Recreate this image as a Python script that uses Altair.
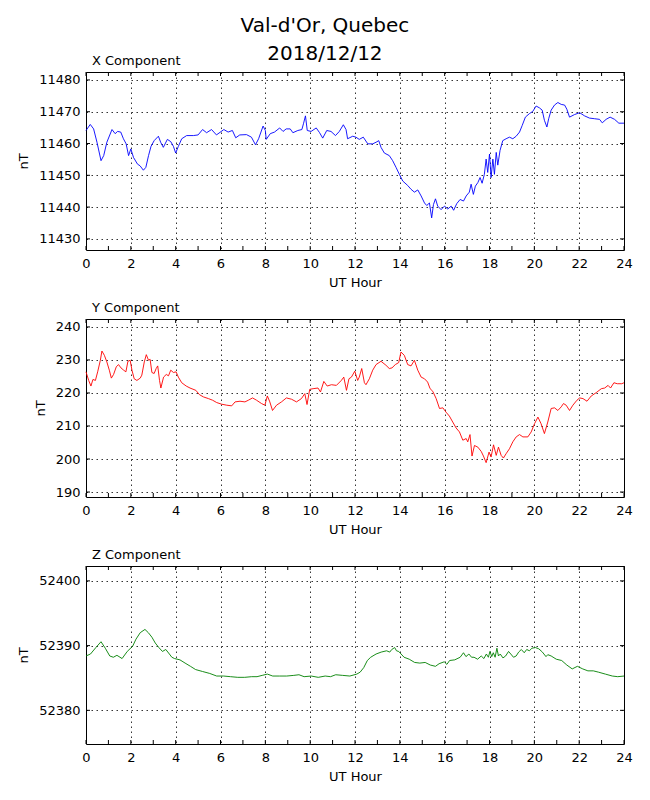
import altair as alt
import pandas as pd

# ---------------- data ----------------
X_T = [0, 0.19, 0.34, 0.49, 0.67, 0.79, 0.93, 1.16, 1.3, 1.41, 1.55, 1.67, 1.79, 1.9, 2.0, 2.12, 2.3, 2.41,
       2.56, 2.67, 2.79, 2.9, 3.04, 3.23, 3.33, 3.45, 3.63, 3.78, 3.9, 4.0, 4.12, 4.27, 4.49, 4.79, 5.0, 5.2,
       5.38, 5.6, 5.82, 6.15, 6.34, 6.53, 6.68, 6.86, 7.16, 7.38, 7.56, 7.7, 7.9, 8.0, 8.04, 8.22, 8.41, 8.64,
       8.79, 8.93, 9.11, 9.23, 9.45, 9.63, 9.7, 9.79, 9.87, 10.04, 10.27, 10.42, 10.56, 10.74, 10.93, 11.13,
       11.3, 11.48, 11.6, 11.67, 11.9, 12.04, 12.19, 12.37, 12.57, 12.79, 12.94, 13.06, 13.16, 13.31, 13.53,
       13.68, 13.83, 13.98, 14.13, 14.35, 14.5, 14.65, 14.8, 14.95, 15.1, 15.2, 15.32, 15.42, 15.5, 15.59,
       15.69, 15.84, 15.99, 16.14, 16.29, 16.4, 16.54, 16.69, 16.84, 16.96, 17.1, 17.18, 17.28, 17.37, 17.48,
       17.58, 17.67, 17.77, 17.85, 17.92, 18.0, 18.07, 18.15, 18.22, 18.3, 18.37, 18.47, 18.59, 18.74, 18.89,
       19.04, 19.19, 19.34, 19.46, 19.6, 19.78, 19.93, 20.08, 20.23, 20.35, 20.45, 20.56, 20.64, 20.75, 20.9,
       21.05, 21.2, 21.35, 21.45, 21.57, 21.79, 22.02, 22.24, 22.46, 22.69, 22.91, 23.03, 23.2, 23.38, 23.58,
       23.77, 24.0]
X_V = [11464.1, 11466.0, 11464.6, 11460.4, 11454.6, 11456.2, 11460.4, 11464.4, 11463.1, 11463.8, 11463.6,
       11461.5, 11459.9, 11456.2, 11458.3, 11455.6, 11453.5, 11453.0, 11451.6, 11452.5, 11456.2, 11459.1,
       11460.9, 11462.3, 11460.4, 11458.8, 11461.3, 11460.6, 11459.1, 11457.0, 11459.1, 11461.5, 11462.5,
       11462.5, 11462.7, 11464.4, 11463.4, 11464.4, 11462.7, 11464.4, 11463.6, 11464.1, 11461.8, 11462.7,
       11462.8, 11462.0, 11459.6, 11461.5, 11465.5, 11464.1, 11461.3, 11463.1, 11463.6, 11464.9, 11463.8,
       11464.6, 11464.6, 11463.4, 11464.1, 11464.4, 11466.2, 11468.7, 11464.1, 11463.8, 11464.9, 11463.4,
       11461.7, 11464.1, 11463.8, 11462.5, 11463.8, 11465.9, 11464.4, 11461.5, 11462.3, 11462.0, 11461.3,
       11462.0, 11459.9, 11459.9, 11460.4, 11460.9, 11458.8, 11457.0, 11456.2, 11454.6, 11452.5, 11450.3,
       11448.2, 11446.8, 11445.6, 11444.7, 11445.4, 11443.5, 11441.3, 11440.5, 11441.3, 11436.6, 11440.8,
       11442.6, 11440.3, 11439.2, 11440.3, 11439.4, 11440.3, 11439.0, 11441.1, 11442.4, 11441.9, 11443.5,
       11444.7, 11447.2, 11444.0, 11446.6, 11447.7, 11449.3, 11447.5, 11450.3, 11455.1, 11450.9, 11456.7,
       11449.3, 11455.1, 11450.3, 11457.2, 11453.2, 11457.8, 11460.9, 11461.5, 11462.0, 11461.5, 11462.3,
       11463.6, 11465.7, 11468.3, 11469.4, 11470.1, 11471.8, 11471.2, 11470.5, 11467.3, 11465.2, 11467.8,
       11470.5, 11472.1, 11472.9, 11472.3, 11472.1, 11470.8, 11468.3, 11469.1, 11469.7, 11468.7, 11468.0,
       11467.8, 11467.6, 11466.5, 11467.6, 11468.3, 11467.6, 11466.4, 11466.4]

Y_T = [0, 0.12, 0.22, 0.31, 0.42, 0.52, 0.64, 0.71, 0.82, 0.93, 1.04, 1.13, 1.23, 1.35, 1.45, 1.56, 1.68, 1.78,
       1.87, 1.97, 2.05, 2.15, 2.27, 2.42, 2.49, 2.6, 2.69, 2.79, 2.86, 2.94, 3.04, 3.13, 3.2, 3.28, 3.34, 3.46,
       3.58, 3.68, 3.78, 3.9, 4.02, 4.12, 4.27, 4.47, 4.64, 4.9, 5.06, 5.24, 5.46, 5.65, 5.83, 6.05, 6.28, 6.5,
       6.65, 6.87, 7.09, 7.24, 7.43, 7.61, 7.83, 7.98, 8.09, 8.2, 8.32, 8.5, 8.72, 8.94, 9.17, 9.39, 9.61, 9.76,
       9.86, 9.98, 10.13, 10.35, 10.46, 10.61, 10.76, 10.95, 11.17, 11.39, 11.5, 11.62, 11.73, 11.84, 11.99,
       12.12, 12.19, 12.3, 12.42, 12.49, 12.64, 12.79, 12.94, 13.16, 13.38, 13.53, 13.65, 13.8, 13.95, 14.05,
       14.2, 14.35, 14.5, 14.65, 14.8, 14.95, 15.1, 15.24, 15.35, 15.47, 15.62, 15.77, 15.92, 16.06, 16.21,
       16.36, 16.51, 16.66, 16.81, 16.96, 17.03, 17.13, 17.22, 17.33, 17.48, 17.63, 17.73, 17.85, 17.98, 18.07,
       18.18, 18.3, 18.4, 18.52, 18.62, 18.74, 18.89, 19.04, 19.19, 19.34, 19.49, 19.71, 19.86, 20.01, 20.16,
       20.3, 20.45, 20.6, 20.75, 20.9, 21.05, 21.2, 21.3, 21.42, 21.57, 21.72, 21.9, 22.02, 22.17, 22.35,
       22.54, 22.76, 22.99, 23.14, 23.29, 23.4, 23.55, 23.7, 23.9, 24.0]
Y_V = [226.4, 223.8, 222.1, 224.1, 223.8, 226.4, 229.9, 232.7, 231.4, 229.4, 226.9, 224.5, 225.6, 227.9, 228.6,
       227.6, 226.9, 226.4, 229.6, 229.9, 226.9, 224.3, 223.8, 224.5, 225.4, 229.4, 231.6, 229.9, 230.2, 226.2,
       225.9, 227.4, 228.2, 223.8, 221.5, 224.8, 225.6, 225.2, 226.9, 226.2, 226.4, 224.8, 223.1, 222.1, 221.5,
       220.8, 219.5, 218.8, 218.3, 217.8, 217.1, 216.6, 216.3, 216.1, 217.3, 217.5, 217.3, 217.8, 218.5, 217.8,
       216.8, 216.3, 219.1, 217.3, 214.7, 216.3, 217.3, 218.5, 218.1, 217.3, 218.3, 219.8, 216.5, 221.1, 221.3,
       221.5, 220.3, 223.5, 222.1, 222.5, 222.3, 223.8, 224.8, 220.8, 224.3, 224.8, 226.6, 223.8, 224.8, 227.4,
       223.1, 222.5, 224.3, 226.9, 228.6, 229.6, 228.4, 227.4, 227.6, 228.6, 229.2, 232.4, 231.4, 228.6, 228.2,
       229.9, 226.9, 224.8, 224.3, 223.3, 221.3, 220.5, 218.3, 215.3, 215.5, 214.2, 213.0, 211.2, 209.4, 208.2,
       205.7, 206.2, 205.2, 207.4, 200.9, 204.1, 203.6, 202.3, 200.9, 198.9, 202.1, 200.6, 204.3, 201.1, 203.6,
       201.1, 200.3, 201.6, 203.1, 205.2, 206.7, 207.4, 206.7, 206.7, 208.2, 210.7, 212.7, 210.7, 207.7, 211.2,
       215.3, 215.5, 214.7, 215.8, 216.8, 216.3, 214.7, 216.3, 217.8, 218.5, 218.3, 217.5, 219.1, 220.1, 221.3,
       221.5, 222.3, 221.5, 223.1, 222.8, 222.8, 223.1]

Z_T = [0, 0.2, 0.44, 0.67, 0.86, 1.06, 1.22, 1.38, 1.61, 1.84, 2.08, 2.23, 2.42, 2.63, 2.78, 2.94, 3.09, 3.25,
       3.41, 3.56, 3.72, 3.83, 3.95, 4.19, 4.42, 4.66, 4.89, 5.2, 5.52, 5.83, 6.14, 6.45, 6.77, 7.08, 7.39,
       7.63, 7.86, 8.09, 8.33, 8.64, 8.95, 9.27, 9.5, 9.73, 10.05, 10.36, 10.67, 10.91, 11.14, 11.45, 11.77,
       12.08, 12.23, 12.39, 12.55, 12.7, 12.94, 13.17, 13.41, 13.55, 13.64, 13.77, 13.85, 13.95, 14.19, 14.42,
       14.66, 14.89, 15.13, 15.36, 15.59, 15.75, 15.98, 16.1, 16.22, 16.45, 16.69, 16.84, 16.95, 17.08, 17.2,
       17.31, 17.47, 17.63, 17.75, 17.86, 17.95, 18.02, 18.1, 18.17, 18.25, 18.33, 18.4, 18.48, 18.6, 18.72,
       18.85, 18.95, 19.07, 19.19, 19.3, 19.42, 19.55, 19.66, 19.78, 19.89, 20.05, 20.2, 20.36, 20.52, 20.6,
       20.75, 20.98, 21.22, 21.45, 21.69, 21.92, 22.16, 22.39, 22.63, 22.86, 23.17, 23.48, 23.72, 24.0]
Z_V = [52388.4, 52388.7, 52389.7, 52390.6, 52389.6, 52388.4, 52388.2, 52388.5, 52388.0, 52389.1, 52389.9,
       52391.0, 52392.0, 52392.5, 52392.0, 52391.3, 52390.4, 52389.7, 52389.1, 52389.4, 52388.7, 52388.2,
       52388.0, 52387.8, 52387.3, 52386.8, 52386.3, 52386.0, 52385.7, 52385.3, 52385.3, 52385.2, 52385.1,
       52385.1, 52385.2, 52385.2, 52385.4, 52385.6, 52385.3, 52385.3, 52385.3, 52385.4, 52385.5, 52385.2,
       52385.3, 52385.1, 52385.3, 52385.2, 52385.5, 52385.4, 52385.3, 52385.6, 52385.9, 52386.6, 52387.7,
       52388.2, 52388.7, 52389.0, 52389.2, 52389.0, 52389.4, 52389.7, 52389.2, 52389.1, 52388.2, 52387.9,
       52387.4, 52387.3, 52387.4, 52387.0, 52386.8, 52387.2, 52387.5, 52387.1, 52387.7, 52387.8, 52388.2,
       52388.9, 52388.3, 52388.7, 52388.2, 52388.2, 52387.9, 52388.4, 52388.0, 52388.7, 52388.2, 52389.1,
       52388.3, 52388.9, 52388.2, 52389.6, 52388.4, 52388.7, 52388.1, 52388.4, 52389.1, 52388.7, 52388.2,
       52388.4, 52389.0, 52389.4, 52388.9, 52389.4, 52389.2, 52389.6, 52389.7, 52389.5, 52389.0, 52388.3,
       52388.6, 52388.4, 52387.9, 52387.7, 52387.0, 52386.4, 52386.8, 52386.4, 52386.1, 52386.1, 52385.9,
       52385.6, 52385.3, 52385.2, 52385.3]

X_TICK_HOURS = list(range(0, 25, 2))
X_MINOR_HOURS = list(range(0, 25, 1))

PANELS = [
    ("X Component", X_T, X_V, "#0000ff", [11426.5, 11482.5], [11430, 11440, 11450, 11460, 11470, 11480]),
    ("Y Component", Y_T, Y_V, "#ff0000", [188.5, 242.4], [190, 200, 210, 220, 230, 240]),
    ("Z Component", Z_T, Z_V, "#008000", [52374.8, 52402.3], [52380, 52390, 52400]),
]

FONT = "DejaVu Sans"
W, H = 538, 178


def panel(title, ts, vs, color, ydom, yticks):
    df = pd.DataFrame({"t": ts, "v": vs})
    xscale = alt.Scale(domain=[0, 24], nice=False, zero=False)
    yscale = alt.Scale(domain=ydom, nice=False, zero=False)
    common = dict(grid=True, gridColor="black", gridDash=[1.5, 3.5], gridWidth=0.8, gridOpacity=1,
                  tickSize=0, domain=False, format="d", labelFlush=False,
                  labelFont=FONT, labelFontSize=13, labelColor="black",
                  titleFont=FONT, titleFontSize=13, titleFontWeight="normal", titleColor="black")
    xaxis = alt.Axis(values=X_TICK_HOURS, title="UT Hour", labelPadding=7, titlePadding=6, **common)
    yaxis = alt.Axis(values=yticks, title="nT", labelPadding=6, titlePadding=8, **common)
    line = alt.Chart(df).mark_line(color=color, strokeWidth=0.9).encode(
        x=alt.X("t:Q", scale=xscale, axis=xaxis),
        y=alt.Y("v:Q", scale=yscale, axis=yaxis),
    )
    xt = pd.DataFrame({"t": X_MINOR_HOURS})
    yt = pd.DataFrame({"v": yticks})
    xb = alt.Chart(xt).mark_rule(color="black", strokeWidth=1).encode(
        x=alt.X("t:Q", scale=xscale, axis=xaxis), y=alt.value(H), y2=alt.value(H - 4))
    xtop = alt.Chart(xt).mark_rule(color="black", strokeWidth=1).encode(
        x=alt.X("t:Q", scale=xscale, axis=xaxis), y=alt.value(0), y2=alt.value(4))
    yl = alt.Chart(yt).mark_rule(color="black", strokeWidth=1).encode(
        y=alt.Y("v:Q", scale=yscale, axis=yaxis), x=alt.value(0), x2=alt.value(4))
    yr = alt.Chart(yt).mark_rule(color="black", strokeWidth=1).encode(
        y=alt.Y("v:Q", scale=yscale, axis=yaxis), x=alt.value(W), x2=alt.value(W - 4))
    return alt.layer(line, xb, xtop, yl, yr).properties(
        width=W, height=H,
        title=alt.TitleParams(title, anchor="start", frame="group", fontSize=13, fontWeight="normal",
                              font=FONT, color="black", dx=6, offset=4),
    )


chart = alt.vconcat(*[panel(*p) for p in PANELS], spacing=11).properties(
    title=alt.TitleParams(["Val-d'Or, Quebec", "2018/12/12"], fontSize=20, fontWeight="normal",
                          font=FONT, color="black", anchor="middle", lineHeight=28, offset=-10),
    padding={"left": 9, "top": 8, "right": 5, "bottom": 5},
    background="white",
).configure_view(stroke="black", strokeWidth=1)

chart.save("out.html", embed_options={"renderer": "svg", "actions": False})
